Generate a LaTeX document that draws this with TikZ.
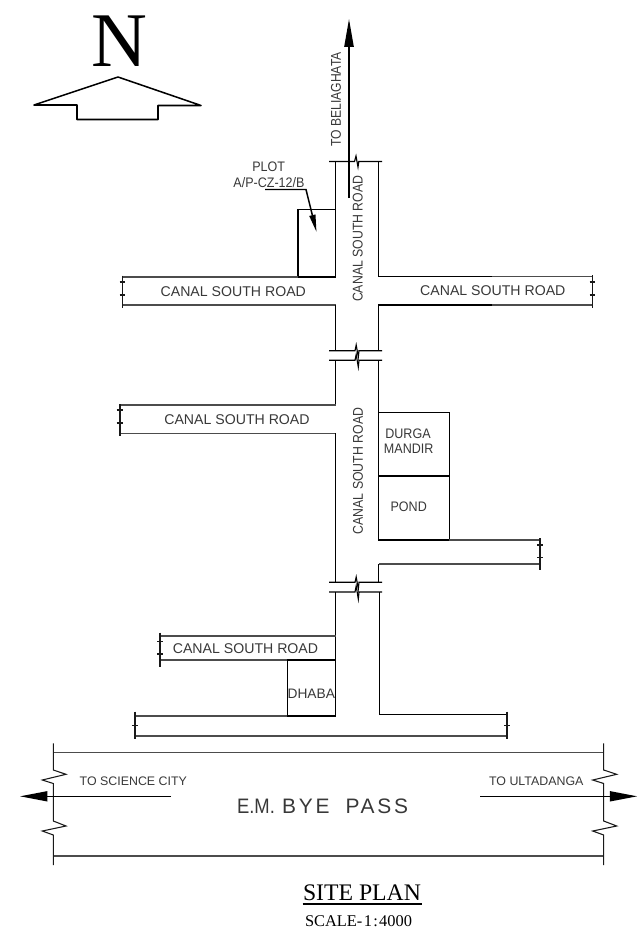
\documentclass[tikz,border=0pt]{standalone}
\usepackage{fontspec}
\setmainfont{Liberation Sans}
\newfontfamily\serifface{Liberation Serif}
\newfontfamily\spacedface[LetterSpace=13]{Liberation Sans}
\usetikzlibrary{arrows.meta}
\definecolor{ink}{gray}{0.22}
\newcommand{\sz}[1]{\fontsize{#1}{#1}\selectfont}
\newcommand{\narrow}[2]{\scalebox{#1}[1]{#2}}
\newcommand{\tallbox}[1]{\scalebox{1}[1.1]{#1}}
\tikzset{
  wall/.style={line width=1.15pt,black,line cap=butt,line join=miter},
  thinwall/.style={line width=1.15pt,black!70,line join=miter},
  endcap/.style={line width=0.8pt,black!90},
  break/.style={line width=0.85pt,black},
  lbl/.style={inner sep=0pt,text=ink,align=center},
  road/.style={lbl,font=\sz{10.6}},
  small/.style={lbl,font=\sz{9.4}},
  ptr/.style={line width=1.1pt,black,-{Triangle[length=21pt,width=7pt]}},
  ptrflat/.style={line width=1.1pt,black,-{Triangle[length=20.5pt,width=7.5pt]}},
}
\begin{document}
\begin{tikzpicture}[x=0.75pt,y=-0.75pt]
\useasboundingbox (0,0) rectangle (638,945);

% north mark
\node[inner sep=0pt,font=\serifface\sz{58}] (north) at (119.5,41) {N};
\draw[line width=1.15pt,black,line join=round] (34,105) -- (118,77) -- (201,105.5) -- (158,105.5) -- (158,119.5) -- (77,119.5) -- (77,105) -- cycle;

% top road stretch
\draw[break] (329,161.5) -- (354.5,161.5) -- (356,156) -- (358,167) -- (358.8,161.5) -- (382,161.5);
\draw[wall] (335.7,161.5) -- (335.7,209.5) -- (298,209.5) -- (298,277) -- (335.7,277) -- (335.7,209.5);
\draw[thinwall] (122.3,277) -- (298,277);
\draw[thinwall] (122.3,305) -- (335.7,305);
\draw[wall] (335.7,305) -- (335.7,350.7);
\draw[wall] (378.7,161.5) -- (378.7,276.7) -- (492,276.7);
\draw[thinwall] (492,276.7) -- (592.3,276.7);
\draw[wall] (378.7,350.7) -- (378.7,305) -- (492,305);
\draw[thinwall] (492,305) -- (592.3,305);

% end caps of upper roads
\draw[endcap] (122.3,275.5) -- (122.3,307.5);
\draw[endcap] (119.5,282) -- (125,282) (119.5,295) -- (125,295);
\draw[endcap] (592.3,275) -- (592.3,307.5);
\draw[endcap] (589.5,282) -- (595,282) (589.5,295) -- (595,295);

% breaks 1
\draw[break] (329,350.7) -- (355,350.7) -- (356.2,345) -- (358.3,357) -- (359,350.7) -- (382,350.7);
\draw[break] (329,360.3) -- (355,360.3) -- (356.2,354.5) -- (358.3,367) -- (359,360.3) -- (382,360.3);

% middle stretch
\draw[wall] (335.7,360.3) -- (335.7,405);
\draw[thinwall] (120,405) -- (335.7,405);
\draw[thinwall] (120,433.3) -- (335.7,433.3);
\draw[wall] (335.7,433.3) -- (335.7,582.3);
\draw[endcap] (120,404) -- (120,435.5);
\draw[endcap] (116.5,410) -- (122.8,410) (116.5,423) -- (122.8,423);
\draw[wall] (378.7,360.3) -- (378.7,540) -- (449.3,540) -- (449.3,412.3) -- (378.7,412.3);
\draw[wall,line width=0.95pt] (378.7,476) -- (449.3,476);
\draw[thinwall] (449.3,540) -- (540,540);
\draw[thinwall] (540,564) -- (378.7,564);
\draw[wall] (378.7,564) -- (378.7,582.3);
\draw[endcap] (540,538) -- (540,570);
\draw[endcap] (537,545) -- (543,545) (537,557.7) -- (543,557.7);

% breaks 2
\draw[break] (329,582.3) -- (355,582.3) -- (356.2,577) -- (358.3,589) -- (359,582.3) -- (382,582.3);
\draw[break] (329,592) -- (355,592) -- (356.2,586) -- (358.3,599) -- (359,592) -- (382,592);

% lower stretch
\draw[wall] (335.7,592) -- (335.7,716) -- (287.4,716) -- (287.4,660) -- (335.7,660);
\draw[thinwall] (160,636) -- (335.7,636);
\draw[thinwall] (160,660) -- (287.4,660);
\draw[endcap] (160,632.7) -- (160,666.7);
\draw[endcap] (157,641.7) -- (163,641.7) (157,654) -- (163,654);
\draw[thinwall] (135,716) -- (287.4,716);
\draw[thinwall] (135,736) -- (507,736);
\draw[endcap] (135,711.7) -- (135,739.3);
\draw[endcap] (131.8,725.7) -- (138,725.7);
\draw[wall] (379.3,592) -- (379.3,714.7) -- (507,714.7);
\draw[endcap] (507,711.7) -- (507,739.3);
\draw[endcap] (504,725.7) -- (510,725.7);

% bypass
\draw[thinwall] (53.3,752.7) -- (603.7,752.7);
\draw[thinwall] (53.3,856) -- (603.7,856);
\draw[endcap] (53.3,743.3) -- (53.3,770) -- (66,774.3) -- (42.3,780) -- (53.3,783.5) -- (53.3,821) -- (66,826) -- (42.3,831) -- (53.3,835) -- (53.3,865);
\draw[endcap] (603.7,743.3) -- (603.7,770) -- (616.7,774.3) -- (592.7,780) -- (603.7,783.5) -- (603.7,821) -- (616.7,826) -- (592.7,831) -- (603.7,835) -- (603.7,865);

% direction arrows
\coordinate (nstart) at (349,198);
\coordinate (ntip) at (349,19);
\draw[ptr] (nstart) -- (ntip);
\coordinate (wstart) at (171,796.3);
\coordinate (wtip) at (20,796.3);
\draw[ptrflat] (wstart) -- (wtip);
\coordinate (estart) at (480,796.3);
\coordinate (etip) at (637.3,796.3);
\draw[ptrflat] (estart) -- (etip);

% plot leader
\coordinate (lstart) at (265,189.5);
\coordinate (lbend) at (306,189.5);
\coordinate (ltip) at (316.5,232);
\draw[line width=1.1pt,black,line join=miter,-{Triangle[length=13pt,width=4.5pt]}] (lstart) -- (lbend) -- (ltip);

% labels
\node[lbl,rotate=90] (tobel) at (336,99.5) {\sz{10.6}\narrow{0.86}{TO BELIAGHATA}};
\node[small] (plot) at (268.7,166.7) {\tallbox{PLOT}};
\node[small] (plotid) at (269,183) {\tallbox{A/P-CZ-12/B}};
\node[road,rotate=90] (v1) at (357.7,238.7) {\narrow{0.87}{CANAL SOUTH ROAD}};
\node[road,rotate=90] (v2) at (358,471) {\narrow{0.87}{CANAL SOUTH ROAD}};
\node[road] (h1) at (233.3,291.5) {CANAL SOUTH ROAD};
\node[road] (h2) at (492.8,290.7) {CANAL SOUTH ROAD};
\node[road] (h3) at (237,419.3) {CANAL SOUTH ROAD};
\node[road] (h4) at (245.5,649) {CANAL SOUTH ROAD};
\node[small] (durga) at (408,433.3) {\tallbox{DURGA}};
\node[small] (mandir) at (408.7,448.3) {\tallbox{MANDIR}};
\node[small] (pond) at (408.7,506.7) {\tallbox{POND}};
\node[lbl,font=\sz{10.3}] (dhaba) at (311.3,694) {DHABA};
\node[lbl,font=\sz{9.3}] (sci) at (133.3,781.7) {TO SCIENCE CITY};
\node[lbl,font=\sz{9.3}] (ult) at (536.3,781.7) {TO ULTADANGA};
\node[lbl,font=\sz{15.7}] (bypass) at (322.5,806) {\narrow{0.88}{E.M.}\hspace{5.5pt}{\spacedface BYE}\hspace{12pt}{\spacedface PASS}};

% title
\node[inner sep=0pt,font=\serifface\sz{17.8}] (title) at (362,892.5) {SITE PLAN};
\draw[line width=1.3pt,black] (302.7,904.3) -- (422,904.3);
\node[inner sep=0pt,font=\serifface\sz{12.3}] (scale) at (358.5,921.5) {SCALE-\kern1pt 1\kern1pt:\kern1pt 4000};
\end{tikzpicture}
\end{document}
